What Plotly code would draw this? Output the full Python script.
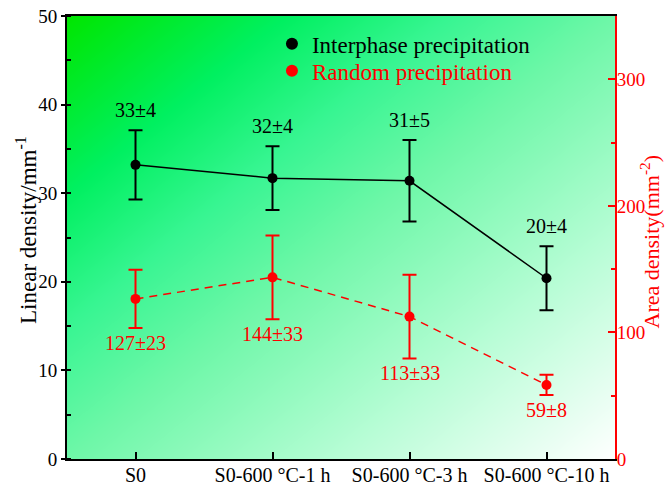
import numpy as np
import plotly.graph_objects as go

categories = ["S0", "S0-600 °C-1 h", "S0-600 °C-3 h", "S0-600 °C-10 h"]
linear_density = [33.2, 31.7, 31.4, 20.4]
linear_err = [3.9, 3.6, 4.6, 3.6]
linear_labels = ["33±4", "32±4", "31±5", "20±4"]
area_density = [126.5, 143.5, 112.5, 58.5]
area_err = [23, 33, 33, 8]
area_labels = ["127±23", "144±33", "113±33", "59±8"]

FONT = "Liberation Serif, Times New Roman, serif"

fig = go.Figure()

# gradient background
n = 80
u = np.linspace(0, 1, n)
v = np.linspace(0, 1, n)
U, V = np.meshgrid(u, v)
Z = 0.5 * U + 0.5 * (1 - V)
fig.add_trace(go.Heatmap(
    x=u, y=v, z=Z, xaxis="x", yaxis="y", zsmooth="best", showscale=False,
    hoverinfo="skip",
    colorscale=[[0, "#00e600"], [0.2, "#00f060"], [0.35, "#38f592"],
                [0.5, "#6ef7a8"], [0.75, "#b8fdd6"], [1, "#ffffff"]],
    zmin=0, zmax=1))

# black series
fig.add_trace(go.Scatter(
    x=categories, y=linear_density, xaxis="x2", yaxis="y2", mode="lines",
    line=dict(color="black", width=1.5), showlegend=False, hoverinfo="skip"))
fig.add_trace(go.Scatter(
    x=categories, y=linear_density, xaxis="x2", yaxis="y2", mode="markers",
    marker=dict(color="black", size=10), legend="legend",
    error_y=dict(type="data", array=linear_err, color="black", thickness=2, width=7),
    name="Interphase precipitation"))

# red series
fig.add_trace(go.Scatter(
    x=categories, y=area_density, xaxis="x2", yaxis="y3", mode="lines",
    line=dict(color="red", width=1.5, dash="8px,6px"), showlegend=False, hoverinfo="skip"))
fig.add_trace(go.Scatter(
    x=categories, y=area_density, xaxis="x2", yaxis="y3", mode="markers",
    marker=dict(color="red", size=10), legend="legend2",
    error_y=dict(type="data", array=area_err, color="red", thickness=2, width=7),
    name="<span style='color:red'>Random precipitation</span>"))

for c, val, e, lab in zip(categories, linear_density, linear_err, linear_labels):
    fig.add_annotation(x=c, y=val + e, xref="x2", yref="y2", text=lab,
                       showarrow=False, yanchor="bottom", yshift=7,
                       font=dict(family=FONT, size=20, color="black"))
for c, val, e, lab in zip(categories, area_density, area_err, area_labels):
    fig.add_annotation(x=c, y=val - e, xref="x2", yref="y3", text=lab,
                       showarrow=False, yanchor="top", yshift=-2,
                       font=dict(family=FONT, size=20, color="red"))

# axis titles
fig.add_annotation(x=-0.073, y=0.517, xref="paper", yref="paper",
                   text="Linear density/mm<sup>-1</sup>", textangle=-90,
                   showarrow=False, xanchor="center", yanchor="middle",
                   font=dict(family=FONT, size=23, color="black"))
fig.add_annotation(x=1.063, y=0.49, xref="paper", yref="paper",
                   text="Area density(mm<sup>-2</sup>)", textangle=-90,
                   showarrow=False, xanchor="center", yanchor="middle",
                   font=dict(family=FONT, size=22, color="red"))

legend_common = dict(xanchor="left", yanchor="top", bgcolor="rgba(0,0,0,0)",
                     font=dict(family=FONT, size=23), itemsizing="constant")

fig.update_layout(
    width=666, height=488,
    margin=dict(l=67, r=51, t=16, b=29, autoexpand=False),
    paper_bgcolor="white", plot_bgcolor="white",
    font=dict(family=FONT, size=20, color="black"),
    showlegend=True,
    legend=dict(x=0.374, y=0.986, **legend_common),
    legend2=dict(x=0.374, y=0.925, **legend_common),
    xaxis=dict(range=[0, 1], visible=False, domain=[0, 1], fixedrange=True),
    yaxis=dict(range=[0, 1], visible=False, domain=[0, 1], fixedrange=True),
    xaxis2=dict(overlaying="x", anchor="y2", type="category", range=[-0.5, 3.5],
                showline=True, linecolor="black", linewidth=2, mirror=True,
                ticks="inside", ticklen=7, tickwidth=1.5, tickcolor="black",
                ticklabelstandoff=-3,
                showgrid=False, zeroline=False, automargin=False,
                tickfont=dict(family=FONT, size=20, color="black")),
    yaxis2=dict(overlaying="y", side="left", anchor="x2", range=[0, 50],
                dtick=10, showline=True, linecolor="black", linewidth=2,
                ticks="outside", ticklen=4, tickwidth=1.5, tickcolor="black",
                minor=dict(dtick=5, ticks="inside", ticklen=4, tickcolor="black"),
                showgrid=False, zeroline=False, automargin=False,
                tickfont=dict(family=FONT, size=19, color="black")),
    yaxis3=dict(overlaying="y", side="right", anchor="x2", range=[0, 350],
                dtick=100, showline=True, linecolor="red", linewidth=2,
                ticks="inside", ticklen=7, tickwidth=1.5, tickcolor="red",
                ticklabelstandoff=-4,
                minor=dict(dtick=50, ticks="inside", ticklen=4, tickcolor="red"),
                showgrid=False, zeroline=False, automargin=False,
                tickfont=dict(family=FONT, size=19, color="red")),
)

fig.write_html("out.html", config={"displayModeBar": False},
               post_script="document.body.style.margin='0px';")
